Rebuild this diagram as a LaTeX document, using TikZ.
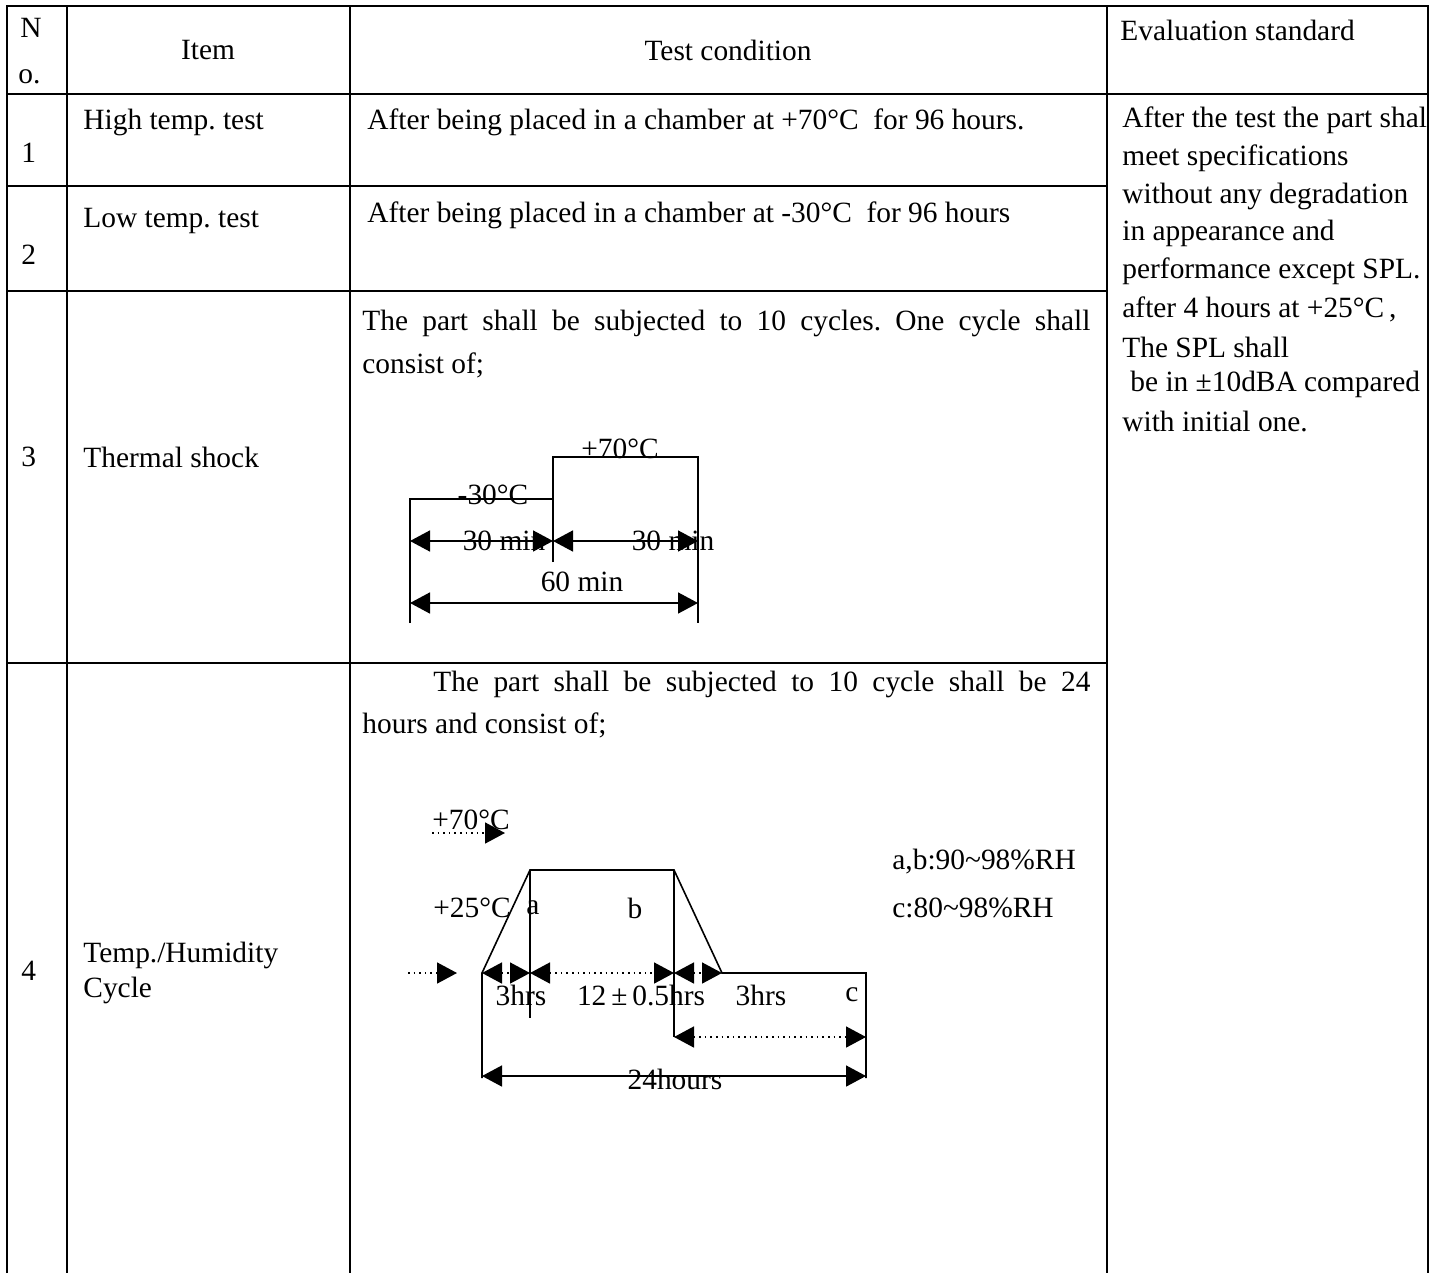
\documentclass[tikz,border=0pt]{standalone}
\usepackage{fontspec}
\setmainfont{Liberation Serif}
\usetikzlibrary{arrows.meta,positioning}

\tikzset{
  grid/.style={line width=1pt},
  lbl/.style={inner sep=0pt,font=\fontsize{14.7}{17}\selectfont},
  txt/.style={lbl,anchor=west},
  prof/.style={line width=0.8pt},
  dim/.style={line width=0.8pt,{Triangle[length=10pt,width=10.5pt]}-{Triangle[length=10pt,width=10.5pt]}},
  dimdot/.style={dim,dotted},
  hint/.style={line width=0.8pt,dotted,-{Triangle[length=10pt,width=10.5pt]}}
}

\begin{document}
\frenchspacing
\begin{tikzpicture}[x=0.5pt,y=-0.5pt]
  \useasboundingbox (0,0) rectangle (1443,1273);
  %header
  \node[txt] (noN) at (20,28) {N};
  \node[txt] (noO) at (18,77) {o.};
  \node[lbl] (item) at (208,50) {Item};
  \node[lbl] (cond) at (728,50) {Test condition};
  \node[txt] (eval) at (1120,30) {Evaluation standard};
  %rows
  \node[txt] (n1) at (21,153) {1};
  \node[txt] (n2) at (21,255) {2};
  \node[txt] (n3) at (21,457) {3};
  \node[txt] (n4) at (21,971) {4};
  \node[txt] (item1) at (83,122) {High temp. test};
  \node[txt] (item2) at (83,221) {Low temp. test};
  \node[txt] (item3) at (83,457) {Thermal shock};
  \node[txt] (item4a) at (83,955) {Temp./Humidity};
  \node[txt] (item4b) at (83,990) {Cycle};
  \node[txt] (cond1) at (367,122) {After being placed in a chamber at +70°C\ \ for 96 hours.};
  \node[txt] (cond2) at (367,215) {After being placed in a chamber at -30°C\ \ for 96 hours};
  \node[txt] (cond3a) at (362,323) {\makebox[364pt][s]{The part shall be subjected to 10 cycles. One cycle shall}};
  \node[txt] (cond3b) at (362,365) {consist of;};
  \node[txt] (cond4a) at (433,684) {\makebox[328.5pt][s]{The part shall be subjected to 10 cycle shall be 24}};
  \node[txt] (cond4b) at (362,725) {hours and consist of;};
  %evaluation
  \node[txt] (ev1) at (1122,120) {After the test the part shal};
  \node[txt] (ev2) at (1122,158) {meet specifications};
  \node[txt] (ev3) at (1122,196) {without any degradation};
  \node[txt] (ev4) at (1122,233) {in appearance and};
  \node[txt] (ev5) at (1122,271) {performance except SPL.};
  \node[txt] (ev6) at (1122,309) {after 4 hours at +25°C\,,};
  \node[txt] (ev7) at (1122,347) {The SPL shall};
  \node[txt] (ev8) at (1130,384) {be in ±10dBA compared};
  \node[txt] (ev9) at (1122,422) {with initial one.};

  %table lines
  \draw[grid] (7,1273) -- (7,6) -- (1428,6) -- (1428,1273);
  \draw[grid] (7,94) -- (1428,94);
  \draw[grid] (7,186) -- (1107,186);
  \draw[grid] (7,291) -- (1107,291);
  \draw[grid] (7,663) -- (1107,663);
  \draw[grid] (67,6) -- (67,1273);
  \draw[grid] (350,6) -- (350,1273);
  \draw[grid] (1107,6) -- (1107,1273);

  %thermal shock
  \node[lbl] (tsLow) at (493,495) {-30°C};
  \node[lbl] (tsHigh) at (620,449) {+70°C};
  \node[lbl] (tsT1) at (504,541) {30 min};
  \node[lbl] (tsT2) at (673,541) {30 min};
  \node[lbl] (tsT) at (582,582) {60 min};
  \coordinate (tsA) at (410,623);
  \coordinate (tsB) at (410,499);
  \coordinate (tsC) at (553,499);
  \coordinate (tsD) at (553,562);
  \coordinate (tsE) at (553,457);
  \coordinate (tsF) at (698,457);
  \coordinate (tsG) at (698,623);
  \coordinate (tsL1) at (410,541);
  \coordinate (tsM1) at (553,541);
  \coordinate (tsR1) at (698,541);
  \coordinate (tsL2) at (410,603);
  \coordinate (tsR2) at (698,603);
  \draw[prof] (tsA) -- (tsB) -- (tsC);
  \draw[prof] (tsD) -- (tsE) -- (tsF) -- (tsG);
  \draw[dim] (tsL1) -- (tsM1);
  \draw[dim] (tsM1) -- (tsR1);
  \draw[dim] (tsL2) -- (tsR2);

  %humidity cycle
  \node[lbl] (h70) at (471,820) {+70°C};
  \node[lbl] (h25) at (472,908) {+25°C};
  \node[lbl] (ha) at (533,908) {a};
  \node[lbl] (hb) at (635,908) {b};
  \node[lbl] (hT1) at (521,995) {3hrs};
  \node[lbl] (hT2) at (641,995) {12\,±\,0.5hrs};
  \node[lbl] (hT3) at (761,995) {3hrs};
  \node[lbl] (hc) at (852,995) {c};
  \node[lbl] (hT) at (675,1079) {24hours};
  \node[txt] (hRHab) at (892,862) {a,b:90\textasciitilde98\%RH};
  \node[txt] (hRHc) at (892,908) {c:80\textasciitilde98\%RH};
  \coordinate (hA) at (482,1078);
  \coordinate (hB) at (482,973);
  \coordinate (hC) at (530,870);
  \coordinate (hD) at (674,870);
  \coordinate (hE) at (722,973);
  \coordinate (hF) at (866,973);
  \coordinate (hG) at (866,1078);
  \coordinate (hCa) at (530,1018);
  \coordinate (hDa) at (674,1037);
  \coordinate (hC1) at (530,973);
  \coordinate (hD1) at (674,973);
  \coordinate (hF2) at (866,1037);
  \coordinate (hA2) at (482,1076);
  \coordinate (hG2) at (866,1076);
  \coordinate (h70s) at (432,833);
  \coordinate (h70e) at (505,833);
  \coordinate (h25s) at (408,973);
  \coordinate (h25e) at (457,973);
  \draw[prof] (hA) -- (hB) -- (hC) -- (hD) -- (hE) -- (hF) -- (hG);
  \draw[prof] (hC) -- (hCa);
  \draw[prof] (hD) -- (hDa);
  \draw[dimdot] (hB) -- (hC1);
  \draw[dimdot] (hC1) -- (hD1);
  \draw[dimdot] (hD1) -- (hE);
  \draw[dimdot] (hDa) -- (hF2);
  \draw[dim] (hA2) -- (hG2);
  \draw[hint] (h70s) -- (h70e);
  \draw[hint] (h25s) -- (h25e);
\end{tikzpicture}
\end{document}
